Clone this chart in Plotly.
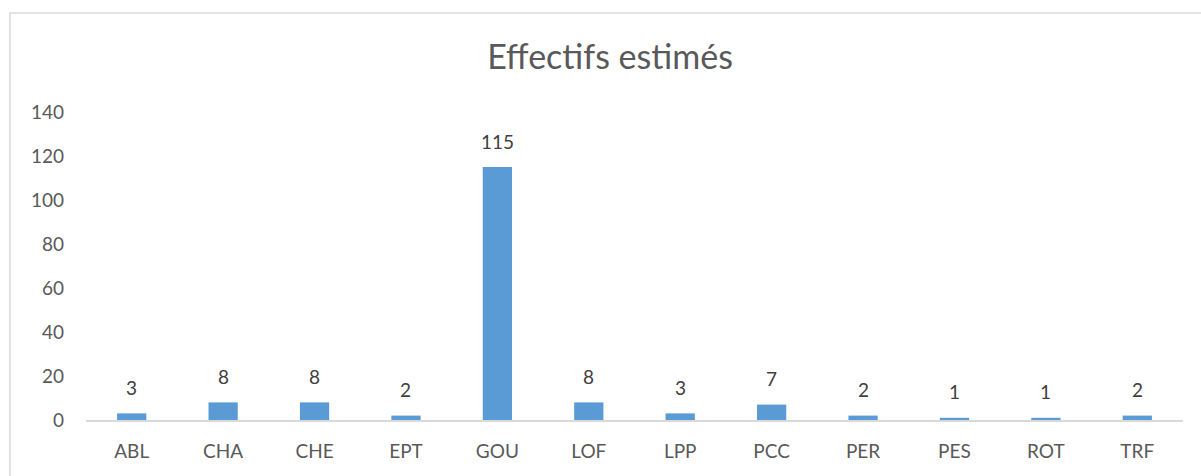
import plotly.graph_objects as go

categories = ["ABL", "CHA", "CHE", "EPT", "GOU", "LOF", "LPP", "PCC", "PER", "PES", "ROT", "TRF"]
values = [3, 8, 8, 2, 115, 8, 3, 7, 2, 1, 1, 2]
y_ticks = [0, 20, 40, 60, 80, 100, 120, 140]

W, H = 1230, 500
ml, mt = 86, 112
mr = W - 1183
mb = H - 420
pw, ph = W - ml - mr, H - mt - mb

fig = go.Figure(go.Bar(
    x=categories, y=values,
    marker=dict(color="#5b9bd5", line=dict(width=0)),
    showlegend=False,
))

annotations = [
    dict(x=c, y=v, xref="x", yref="y", text=str(v), showarrow=False,
         yanchor="middle", yshift=26, font=dict(size=19, color="#404040"))
    for c, v in zip(categories, values)
]

bx = (10 - ml) / pw
by = 1 + (mt - 13) / ph

fig.update_layout(
    width=W, height=H,
    margin=dict(l=ml, r=mr, t=mt, b=mb),
    paper_bgcolor="white", plot_bgcolor="white",
    font=dict(family="Lato, Open Sans, sans-serif", color="#595959"),
    title=dict(text="Effectifs estimés", x=610 / W, xanchor="center",
               y=1 - 57 / H, yanchor="middle",
               font=dict(size=34, color="#595959")),
    bargap=0.68,
    showlegend=False,
    annotations=annotations,
    xaxis=dict(showline=True, linecolor="#d9d9d9", linewidth=1.5, ticks="",
               tickfont=dict(size=19, color="#595959"), showgrid=False,
               ticklabelstandoff=13),
    yaxis=dict(range=[0, 140], tickvals=y_ticks, showgrid=False, zeroline=False, showline=False,
               tickfont=dict(size=19, color="#595959"), ticks="", ticklabelstandoff=21),
    shapes=[
        dict(type="rect", xref="paper", yref="paper", layer="below",
             x0=bx, x1=1 + (mr - 5) / pw, y0=-(mb - 5) / ph, y1=by,
             line=dict(color="#d9d9d9", width=1.5), fillcolor="rgba(0,0,0,0)"),
    ],
)

fig.write_html(
    "out.html",
    config={"displayModeBar": False},
    post_script="document.documentElement.style.overflow='hidden';"
                "document.body.style.margin='0';document.body.style.overflow='hidden';",
)
